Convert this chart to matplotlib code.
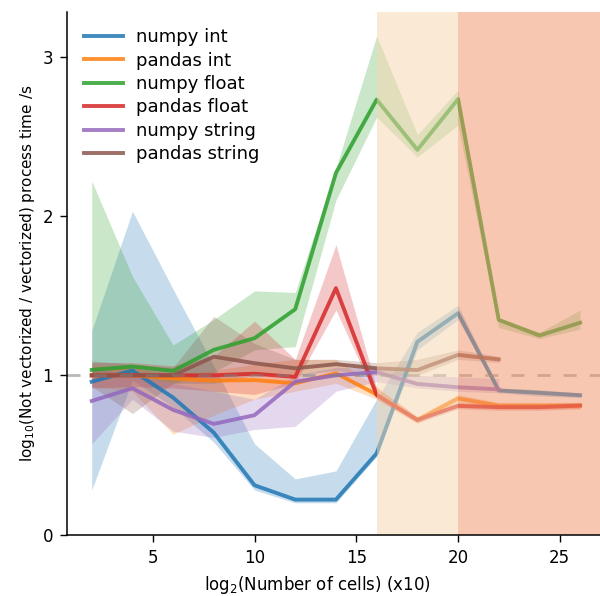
import matplotlib
matplotlib.use('Agg')
import matplotlib.pyplot as plt

# log2(number of cells), every 2 steps
x_full = [2, 4, 6, 8, 10, 12, 14, 16, 18, 20, 22, 24, 26]
x_short = x_full[:11]  # string runs stop at 22

numpy_int = [0.96, 1.03, 0.86, 0.64, 0.31, 0.22, 0.22, 0.51, 1.21, 1.39, 0.905, 0.89, 0.875]
numpy_int_lo = [0.28, 0.97, 0.80, 0.58, 0.28, 0.20, 0.20, 0.49, 1.16, 1.35, 0.89, 0.87, 0.86]
numpy_int_hi = [1.28, 2.03, 1.54, 1.06, 0.57, 0.35, 0.40, 0.85, 1.27, 1.44, 0.92, 0.91, 0.89]

pandas_int = [1.0, 1.0, 0.98, 0.967, 0.97, 0.95, 1.013, 0.88, 0.72, 0.855, 0.81, 0.81, 0.81]
pandas_int_lo = [0.93, 0.90, 0.63, 0.75, 0.85, 0.90, 0.95, 0.85, 0.70, 0.83, 0.79, 0.79, 0.79]
pandas_int_hi = [1.06, 1.05, 1.0, 1.03, 1.07, 1.10, 1.10, 0.93, 0.74, 0.88, 0.83, 0.83, 0.83]

numpy_float = [1.034, 1.055, 1.028, 1.16, 1.233, 1.415, 2.27, 2.73, 2.415, 2.733, 1.348, 1.25, 1.33]
numpy_float_lo = [1.0, 1.0, 0.95, 1.02, 1.16, 1.18, 2.10, 2.62, 2.37, 2.57, 1.30, 1.23, 1.29]
numpy_float_hi = [2.22, 1.62, 1.19, 1.35, 1.53, 1.52, 2.30, 3.13, 2.51, 2.79, 1.36, 1.27, 1.41]

pandas_float = [1.0, 1.0, 1.0, 1.0, 1.01, 0.99, 1.547, 0.876, 0.72, 0.808, 0.80, 0.80, 0.81]
pandas_float_lo = [0.92, 0.93, 0.92, 0.90, 0.88, 0.95, 1.41, 0.85, 0.70, 0.79, 0.78, 0.78, 0.79]
pandas_float_hi = [1.08, 1.08, 1.06, 1.12, 1.34, 1.10, 1.82, 0.92, 0.74, 0.83, 0.82, 0.82, 0.83]

numpy_string = [0.839, 0.919, 0.783, 0.695, 0.75, 0.96, 1.0, 1.02, 0.946, 0.925, 0.912]
numpy_string_lo = [0.57, 0.85, 0.65, 0.61, 0.66, 0.68, 0.90, 0.96, 0.92, 0.90, 0.89]
numpy_string_hi = [1.05, 1.0, 0.95, 0.90, 0.85, 1.0, 1.05, 1.05, 1.0, 0.99, 0.98]

pandas_string = [1.0, 1.0, 1.0, 1.117, 1.076, 1.044, 1.07, 1.044, 1.033, 1.128, 1.1]
pandas_string_lo = [0.93, 0.76, 0.95, 0.95, 1.0, 1.0, 1.03, 1.0, 1.0, 1.1, 1.08]
pandas_string_hi = [1.09, 1.07, 1.05, 1.37, 1.2, 1.1, 1.1, 1.08, 1.1, 1.16, 1.12]

series = [
    ('numpy int', x_full, numpy_int, numpy_int_lo, numpy_int_hi),
    ('pandas int', x_full, pandas_int, pandas_int_lo, pandas_int_hi),
    ('numpy float', x_full, numpy_float, numpy_float_lo, numpy_float_hi),
    ('pandas float', x_full, pandas_float, pandas_float_lo, pandas_float_hi),
    ('numpy string', x_short, numpy_string, numpy_string_lo, numpy_string_hi),
    ('pandas string', x_short, pandas_string, pandas_string_lo, pandas_string_hi),
]

fig = plt.figure(figsize=(6, 5.96), dpi=100)
ax = fig.add_axes([0.1122, 0.1029, 0.8954, 0.877])

for i, (nome, xs, media, lo, hi) in enumerate(series):
    colore = 'C%d' % i
    ax.fill_between(xs, lo, hi, color=colore, alpha=0.25, lw=0, zorder=1)
    ax.plot(xs, media, color=colore, lw=2.8, alpha=0.85, label=nome, zorder=2)

ax.axhline(1, color='grey', alpha=0.55, lw=2, ls=(0, (4.7, 4.7)), zorder=2.2)

# regioni evidenziate (sopra le linee)
ax.axvspan(16, 20, color=(0.97, 0.84, 0.68), alpha=0.5, lw=0, zorder=2.5)
ax.axvspan(20, 28, color=(0.945, 0.57, 0.40), alpha=0.5, lw=0, zorder=2.5)

ax.set_xlim(0.8, 27.2)
ax.set_ylim(0, 3.28)
ax.set_xticks([5, 10, 15, 20, 25])
ax.set_yticks([0, 1, 2, 3])
ax.tick_params(labelsize=12, length=5.25, width=1, pad=5)
for lato in ['left', 'bottom']:
    ax.spines[lato].set_linewidth(1.1)
ax.spines['top'].set_visible(False)
ax.spines['right'].set_visible(False)

ax.set_xlabel('log$_2$(Number of cells) (x10)', fontsize=12, labelpad=1)
ax.xaxis.set_label_coords(0.465, -0.075)
ax.set_ylabel('log$_{10}$(Not vectorized / vectorized) process time /s', fontsize=11)
ax.legend(loc='upper left', frameon=False, fontsize=13, labelspacing=0.3,
          handlelength=2.2, handletextpad=0.7)

fig.savefig('out.png', dpi=100)
